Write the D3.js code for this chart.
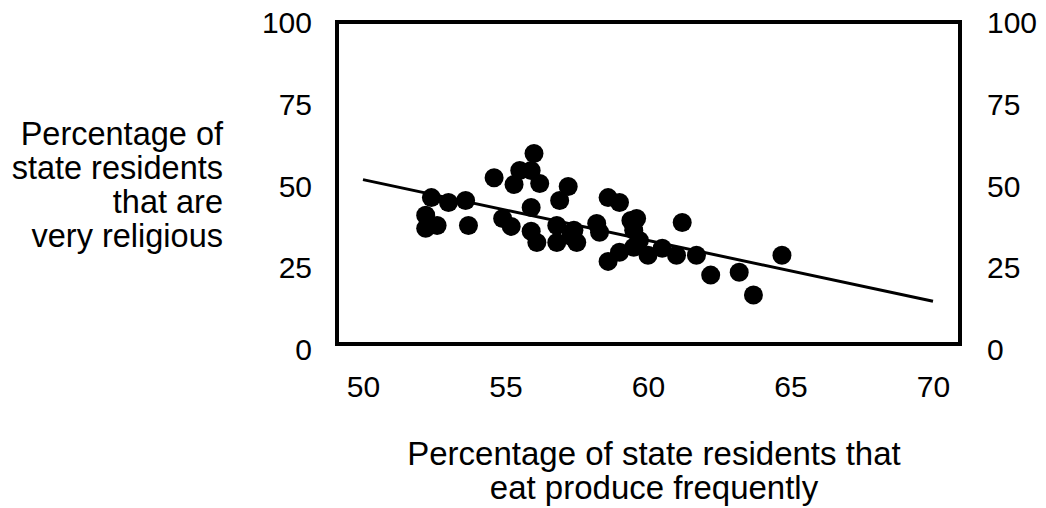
<!DOCTYPE html>
<html>
<head>
<meta charset="UTF-8">
<title>Produce vs religiosity</title>
<script src="https://d3js.org/d3.v7.min.js"></script>
<style>
    body { margin: 0; background: white; }
    svg { display: block; }
    text { font-family: "Liberation Sans", Arial, sans-serif; fill: black; }
    .tick text { font-size: 30px; }
    .title { font-size: 33px; }
    .ytitle { font-size: 32.5px; }
</style>
</head>
<body>
<svg id="chart" width="1046" height="508"></svg>
<script>
    // data
    const produce = [52.2, 52.2, 52.4, 52.6, 53.0, 53.6, 53.7, 54.6, 54.9, 55.2,
                     55.3, 55.5, 55.9, 55.9, 55.9, 56.0, 56.1, 56.2, 56.8, 56.9,
                     56.8, 57.2, 57.4, 57.5, 57.3, 58.2, 58.3, 58.6, 58.6, 59.0,
                     59.0, 59.4, 59.5, 59.6, 59.5, 59.7, 60.0, 60.5, 61.0, 61.2,
                     61.7, 62.2, 63.2, 63.7, 64.7]
    const religious = [41.2, 37.2, 46.6, 38.1, 45.1, 45.7, 38.1, 52.7, 40.2, 37.8,
                       50.6, 54.9, 54.9, 43.6, 36.3, 60.1, 32.9, 50.9, 38.1, 45.7,
                       32.9, 50.0, 36.6, 32.9, 34.8, 38.7, 36.0, 46.6, 27.1, 45.1,
                       29.9, 39.6, 36.6, 40.2, 31.4, 33.5, 29.0, 31.1, 29.0, 39.0,
                       29.0, 22.9, 23.8, 16.8, 29.0]
    const trendX = [50, 70]
    const trendY = [52.1, 14.9]
    const xTicks = [50, 55, 60, 65, 70]
    const yTicks = [0, 25, 50, 75, 100]

    const svg = d3.select('#chart')

    const xScale = d3.scaleLinear().domain([50, 70]).range([363, 933])
    const yScale = d3.scaleLinear().domain([0, 100]).range([350, 23])

    // plot frame
    svg.append('rect')
        .attr('x', 337)
        .attr('y', 22)
        .attr('width', 623)
        .attr('height', 322)
        .style('fill', 'none')
        .style('stroke', 'black')
        .style('stroke-width', 4)

    // trend line
    const line = d3.line()
        .x(d => xScale(d[0]))
        .y(d => yScale(d[1]))
    svg.append('path')
        .datum(d3.zip(trendX, trendY))
        .attr('d', line)
        .style('fill', 'none')
        .style('stroke', 'black')
        .style('stroke-width', 3)

    // points
    svg.append('g')
        .selectAll('circle')
        .data(d3.zip(produce, religious))
        .enter()
        .append('circle')
        .attr('cx', d => xScale(d[0]))
        .attr('cy', d => yScale(d[1]))
        .attr('r', 9.5)
        .style('fill', 'black')

    // axes (labels only)
    const yLeft = svg.append('g')
        .attr('transform', 'translate(312,0)')
        .call(d3.axisLeft(yScale).tickValues(yTicks).tickSize(0).tickPadding(0))
    const yRight = svg.append('g')
        .attr('transform', 'translate(987,0)')
        .call(d3.axisRight(yScale).tickValues(yTicks).tickSize(0).tickPadding(0))
    const xBottom = svg.append('g')
        .attr('transform', 'translate(0,376)')
        .call(d3.axisBottom(xScale).tickValues(xTicks).tickSize(0).tickPadding(0))
    ;[yLeft, yRight, xBottom].forEach(a => {
        a.select('.domain').remove()
        a.attr('font-family', null).attr('font-size', null)
    })

    // y title
    const yTitle = ['Percentage of', 'state residents', 'that are', 'very religious']
    svg.append('text')
        .attr('class', 'ytitle')
        .attr('text-anchor', 'end')
        .selectAll('tspan')
        .data(yTitle)
        .enter()
        .append('tspan')
        .attr('x', 223)
        .attr('y', (d, i) => 145 + i * 34)
        .text(d => d)

    // x title
    const xTitle = ['Percentage of state residents that', 'eat produce frequently']
    svg.append('text')
        .attr('class', 'title')
        .attr('text-anchor', 'middle')
        .selectAll('tspan')
        .data(xTitle)
        .enter()
        .append('tspan')
        .attr('x', 654)
        .attr('y', (d, i) => 465 + i * 34)
        .text(d => d)
</script>
</body>
</html>
